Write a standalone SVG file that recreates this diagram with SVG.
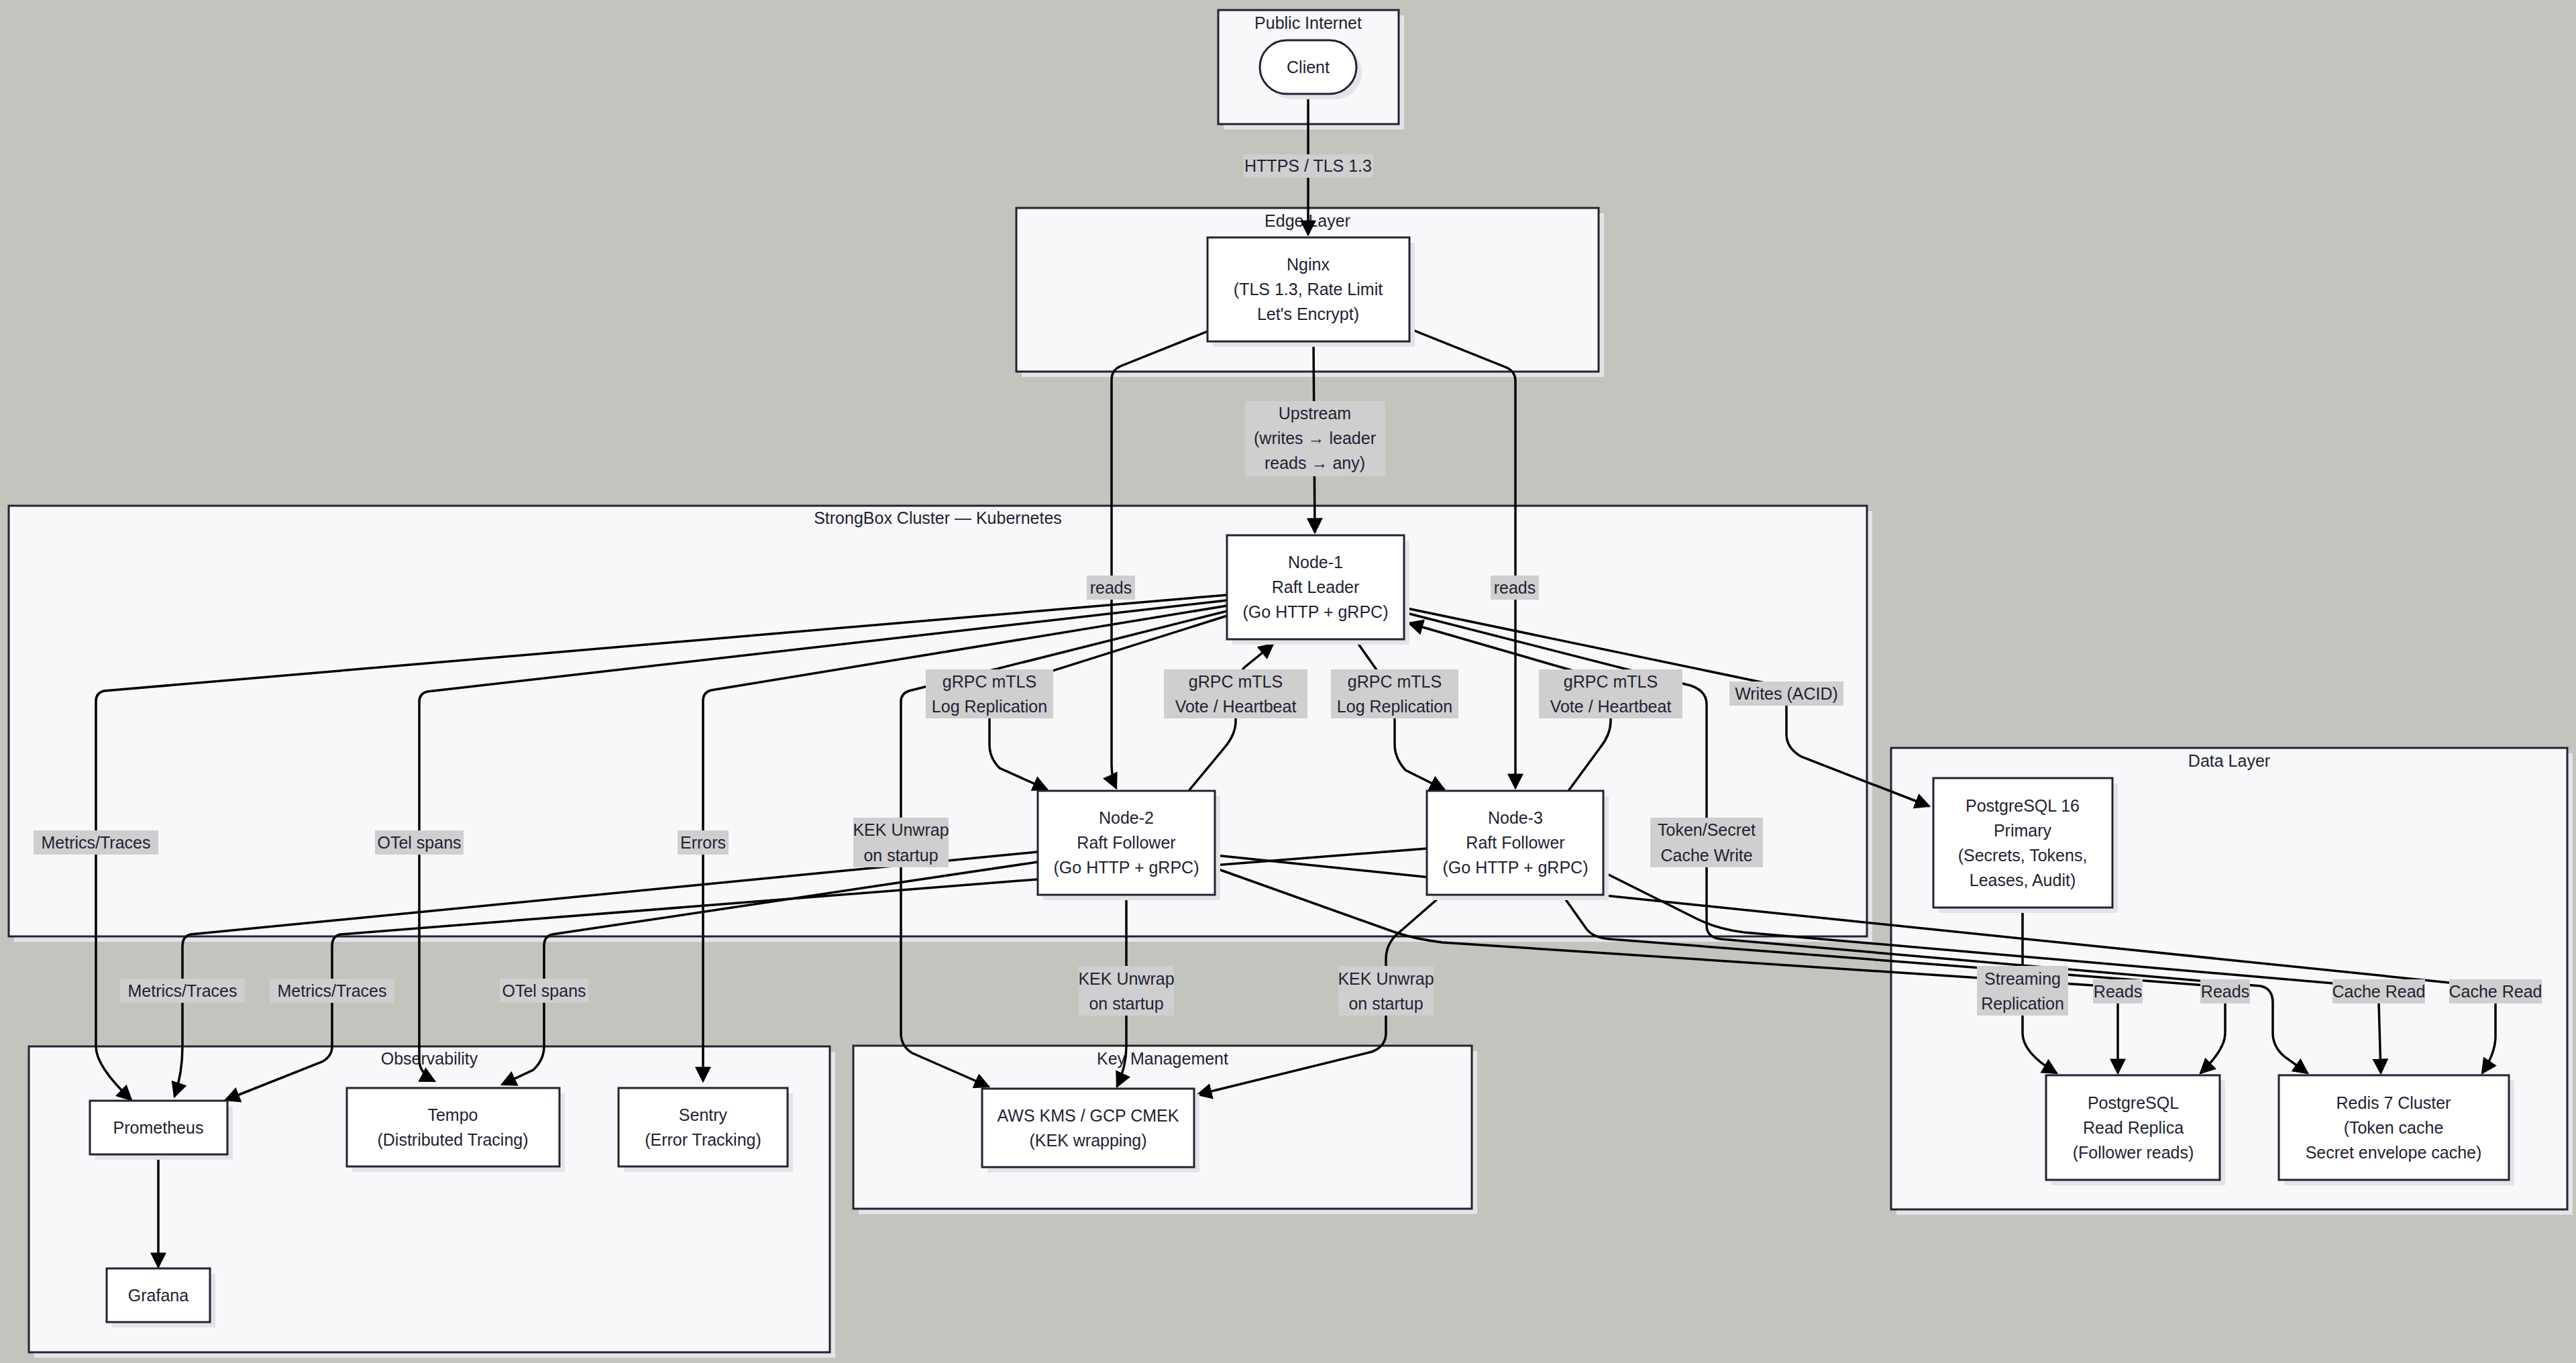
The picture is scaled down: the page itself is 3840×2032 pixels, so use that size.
<svg xmlns="http://www.w3.org/2000/svg" width="3840" height="2032" viewBox="0 0 3840 2032">
<style>
text{font-family:"Liberation Sans",Arial,sans-serif;font-size:25px;fill:#222233;text-anchor:middle;dominant-baseline:central}
.cl{fill:#f8f8fa;stroke:#222233;stroke-width:3}
.nd{fill:#ffffff;stroke:#222233;stroke-width:3}
.sh{fill:#e4e4e8}
.e{fill:none;stroke:#000;stroke-width:3.5;marker-end:url(#ah)}
.e0{fill:none;stroke:#000;stroke-width:3.5}
.lb{fill:#cfcfcf}
</style>
<defs>
<marker id="ah" viewBox="0 0 10 10" refX="9" refY="5" markerWidth="24" markerHeight="24" markerUnits="userSpaceOnUse" orient="auto"><path d="M0,0L10,5L0,10z" fill="#000"/></marker>
</defs>
<rect width="3840" height="2032" fill="#c2c5bd"/>
<g id="clusters">
<g id="c-internet"><rect class="sh" x="1824" y="23" width="269" height="170"/><rect class="cl" x="1816" y="15" width="269" height="170"/><text x="1950" y="34">Public Internet</text></g>
<g id="c-edge"><rect class="sh" x="1523" y="318" width="868" height="244"/><rect class="cl" x="1515" y="310" width="868" height="244"/><text x="1949" y="329">Edge Layer</text></g>
<g id="c-k8s"><rect class="sh" x="21" y="762" width="2770" height="642"/><rect class="cl" x="13" y="754" width="2770" height="642"/><text x="1398" y="772">StrongBox Cluster — Kubernetes</text></g>
<g id="c-obs"><rect class="sh" x="51" y="1568" width="1194" height="456"/><rect class="cl" x="43" y="1560" width="1194" height="456"/><text x="640" y="1578">Observability</text></g>
<g id="c-kms"><rect class="sh" x="1280" y="1567" width="922" height="243"/><rect class="cl" x="1272" y="1559" width="922" height="243"/><text x="1733" y="1578">Key Management</text></g>
<g id="c-data"><rect class="sh" x="2827" y="1123" width="1008" height="688"/><rect class="cl" x="2819" y="1115" width="1008" height="688"/><text x="3323" y="1134">Data Layer</text></g>
</g>
<g id="connectors">
<path class="e" d="M1950,140 L1950,350"/>
<path class="e" d="M1958,509 L1960,794"/>
<path class="e" d="M1800,494 L1670,546 Q1657,552 1657,566 L1657,1140 Q1657,1160 1664,1175"/>
<path class="e" d="M2101,490 L2246,548 Q2259,554 2259,568 L2259,1175"/>
<path class="e" d="M1829,918 L1490,1025 Q1475,1030 1475,1045 L1475,1110 Q1475,1130 1490,1145 L1561,1177"/>
<path class="e" d="M1772,1179 L1825,1115 Q1842,1095 1842,1075 L1842,1030 Q1842,1010 1855,995 L1898,960"/>
<path class="e" d="M2020,953 L2060,1010 Q2079,1030 2079,1050 L2079,1110 Q2079,1130 2095,1148 L2153,1177"/>
<path class="e" d="M2338,1179 L2385,1115 Q2401,1095 2401,1075 L2401,1040 Q2401,1020 2380,1010 L2100,929"/>
<path class="e" d="M2093,906 L2640,1020 Q2663,1028 2663,1045 L2663,1095 Q2663,1115 2685,1128 L2876,1202"/>
<path class="e" d="M2093,913 L2520,1022 Q2544,1030 2544,1050 L2544,1380 Q2544,1397 2565,1400 L3370,1470 Q3388,1474 3388,1495 L3388,1540 Q3388,1560 3405,1575 L3440,1600"/>
<path class="e" d="M1811,1294 L2080,1390 Q2110,1400 2150,1405 L3135,1470 Q3157,1474 3157,1495 L3157,1600"/>
<path class="e" d="M2329,1334 L2365,1385 Q2375,1398 2400,1400 L3300,1470 Q3317,1474 3317,1495 L3317,1540 Q3317,1565 3280,1600"/>
<path class="e" d="M1811,1275 L3700,1470 Q3720,1474 3720,1495 L3720,1545 Q3720,1570 3700,1600"/>
<path class="e" d="M2390,1300 L2530,1370 Q2560,1385 2600,1390 L3525,1470 Q3546,1474 3546,1495 L3549,1600"/>
<path class="e" d="M3015,1353 L3015,1540 Q3015,1570 3066,1600"/>
<path class="e" d="M1829,887 L155,1030 Q143,1033 143,1045 L143,1560 Q143,1590 196,1640"/>
<path class="e" d="M1829,895 L637,1031 Q625,1034 625,1046 L625,1580 Q625,1600 648,1612"/>
<path class="e" d="M1829,903 L1060,1029 Q1048,1032 1048,1045 L1048,1612"/>
<path class="e" d="M1829,911 L1355,1030 Q1343,1034 1343,1046 L1343,1540 Q1343,1560 1360,1570 L1474,1620"/>
<path class="e" d="M1547,1270 L284,1393 Q272,1396 272,1410 L272,1560 Q272,1600 260,1635"/>
<path class="e" d="M2127,1265 L507,1393 Q495,1396 495,1410 L495,1560 Q495,1575 480,1583 L336,1640"/>
<path class="e" d="M1547,1285 L823,1393 Q811,1396 811,1410 L811,1560 Q811,1580 795,1595 L748,1617"/>
<path class="e" d="M1679,1334 L1679,1560 Q1679,1590 1665,1620"/>
<path class="e" d="M2150,1334 L2080,1395 Q2066,1410 2066,1430 L2066,1540 Q2066,1560 2045,1568 L1785,1632"/>
<path class="e" d="M236,1721 L236,1889"/>
<g id="labels">
<rect class="lb" x="1854" y="230" width="193" height="35"/><text x="1950" y="247">HTTPS / TLS 1.3</text>
<rect class="lb" x="1856" y="598" width="209" height="112"/><text x="1960" y="616">Upstream</text><text x="1960" y="653">(writes → leader</text><text x="1960" y="690">reads → any)</text>
<rect class="lb" x="1620" y="858" width="72" height="36"/><text x="1656" y="876">reads</text>
<rect class="lb" x="2222" y="858" width="72" height="36"/><text x="2258" y="876">reads</text>
<rect class="lb" x="1380" y="998" width="190" height="73"/><text x="1475" y="1016">gRPC mTLS</text><text x="1475" y="1053">Log Replication</text>
<rect class="lb" x="1735" y="998" width="214" height="73"/><text x="1842" y="1016">gRPC mTLS</text><text x="1842" y="1053">Vote / Heartbeat</text>
<rect class="lb" x="1984" y="998" width="190" height="73"/><text x="2079" y="1016">gRPC mTLS</text><text x="2079" y="1053">Log Replication</text>
<rect class="lb" x="2294" y="998" width="214" height="73"/><text x="2401" y="1016">gRPC mTLS</text><text x="2401" y="1053">Vote / Heartbeat</text>
<rect class="lb" x="2578" y="1016" width="170" height="36"/><text x="2663" y="1034">Writes (ACID)</text>
<rect class="lb" x="2460" y="1219" width="168" height="74"/><text x="2544" y="1237">Token/Secret</text><text x="2544" y="1275">Cache Write</text>
<rect class="lb" x="1272" y="1219" width="142" height="74"/><text x="1343" y="1237">KEK Unwrap</text><text x="1343" y="1275">on startup</text>
<rect class="lb" x="1608" y="1440" width="142" height="74"/><text x="1679" y="1459">KEK Unwrap</text><text x="1679" y="1496">on startup</text>
<rect class="lb" x="1995" y="1440" width="142" height="74"/><text x="2066" y="1459">KEK Unwrap</text><text x="2066" y="1496">on startup</text>
<rect class="lb" x="50" y="1238" width="186" height="36"/><text x="143" y="1256">Metrics/Traces</text>
<rect class="lb" x="559" y="1238" width="132" height="36"/><text x="625" y="1256">OTel spans</text>
<rect class="lb" x="1010" y="1238" width="76" height="36"/><text x="1048" y="1256">Errors</text>
<rect class="lb" x="179" y="1459" width="186" height="36"/><text x="272" y="1477">Metrics/Traces</text>
<rect class="lb" x="402" y="1459" width="186" height="36"/><text x="495" y="1477">Metrics/Traces</text>
<rect class="lb" x="745" y="1459" width="132" height="36"/><text x="811" y="1477">OTel spans</text>
<rect class="lb" x="2947" y="1440" width="136" height="74"/><text x="3015" y="1459">Streaming</text><text x="3015" y="1496">Replication</text>
<rect class="lb" x="3120" y="1460" width="74" height="36"/><text x="3157" y="1478">Reads</text>
<rect class="lb" x="3280" y="1460" width="74" height="36"/><text x="3317" y="1478">Reads</text>
<rect class="lb" x="3477" y="1460" width="138" height="36"/><text x="3546" y="1478">Cache Read</text>
<rect class="lb" x="3651" y="1460" width="138" height="36"/><text x="3720" y="1478">Cache Read</text>
</g>
</g>
<g id="client"><rect class="sh" x="1886" y="68" width="144" height="80" rx="40"/><rect class="nd" x="1878" y="60" width="144" height="80" rx="40"/><text x="1950" y="100">Client</text></g>
<g id="nginx"><rect class="sh" x="1808" y="362" width="301" height="155"/><rect class="nd" x="1800" y="354" width="301" height="155"/><text x="1950" y="394">Nginx</text><text x="1950" y="431">(TLS 1.3, Rate Limit</text><text x="1950" y="468">Let's Encrypt)</text></g>
<g id="node1"><rect class="sh" x="1837" y="806" width="264" height="155"/><rect class="nd" x="1829" y="798" width="264" height="155"/><text x="1961" y="838">Node-1</text><text x="1961" y="875">Raft Leader</text><text x="1961" y="912">(Go HTTP + gRPC)</text></g>
<g id="node2"><rect class="sh" x="1555" y="1187" width="264" height="155"/><rect class="nd" x="1547" y="1179" width="264" height="155"/><text x="1679" y="1219">Node-2</text><text x="1679" y="1256">Raft Follower</text><text x="1679" y="1293">(Go HTTP + gRPC)</text></g>
<g id="node3"><rect class="sh" x="2135" y="1187" width="263" height="155"/><rect class="nd" x="2127" y="1179" width="263" height="155"/><text x="2259" y="1219">Node-3</text><text x="2259" y="1256">Raft Follower</text><text x="2259" y="1293">(Go HTTP + gRPC)</text></g>
<g id="kms"><rect class="sh" x="1472" y="1631" width="316" height="117"/><rect class="nd" x="1464" y="1623" width="316" height="117"/><text x="1622" y="1663">AWS KMS / GCP CMEK</text><text x="1622" y="1700">(KEK wrapping)</text></g>
<g id="prometheus"><rect class="sh" x="142" y="1649" width="205" height="80"/><rect class="nd" x="134" y="1641" width="205" height="80"/><text x="236" y="1681">Prometheus</text></g>
<g id="tempo"><rect class="sh" x="525" y="1630" width="317" height="117"/><rect class="nd" x="517" y="1622" width="317" height="117"/><text x="675" y="1662">Tempo</text><text x="675" y="1699">(Distributed Tracing)</text></g>
<g id="sentry"><rect class="sh" x="930" y="1630" width="252" height="117"/><rect class="nd" x="922" y="1622" width="252" height="117"/><text x="1048" y="1662">Sentry</text><text x="1048" y="1699">(Error Tracking)</text></g>
<g id="grafana"><rect class="sh" x="167" y="1899" width="154" height="80"/><rect class="nd" x="159" y="1891" width="154" height="80"/><text x="236" y="1931">Grafana</text></g>
<g id="pg-primary"><rect class="sh" x="2890" y="1168" width="267" height="193"/><rect class="nd" x="2882" y="1160" width="267" height="193"/><text x="3015" y="1201">PostgreSQL 16</text><text x="3015" y="1238">Primary</text><text x="3015" y="1275">(Secrets, Tokens,</text><text x="3015" y="1312">Leases, Audit)</text></g>
<g id="pg-replica"><rect class="sh" x="3058" y="1611" width="259" height="156"/><rect class="nd" x="3050" y="1603" width="259" height="156"/><text x="3180" y="1644">PostgreSQL</text><text x="3180" y="1681">Read Replica</text><text x="3180" y="1718">(Follower reads)</text></g>
<g id="redis"><rect class="sh" x="3405" y="1611" width="343" height="156"/><rect class="nd" x="3397" y="1603" width="343" height="156"/><text x="3568" y="1644">Redis 7 Cluster</text><text x="3568" y="1681">(Token cache</text><text x="3568" y="1718">Secret envelope cache)</text></g>
</svg>
